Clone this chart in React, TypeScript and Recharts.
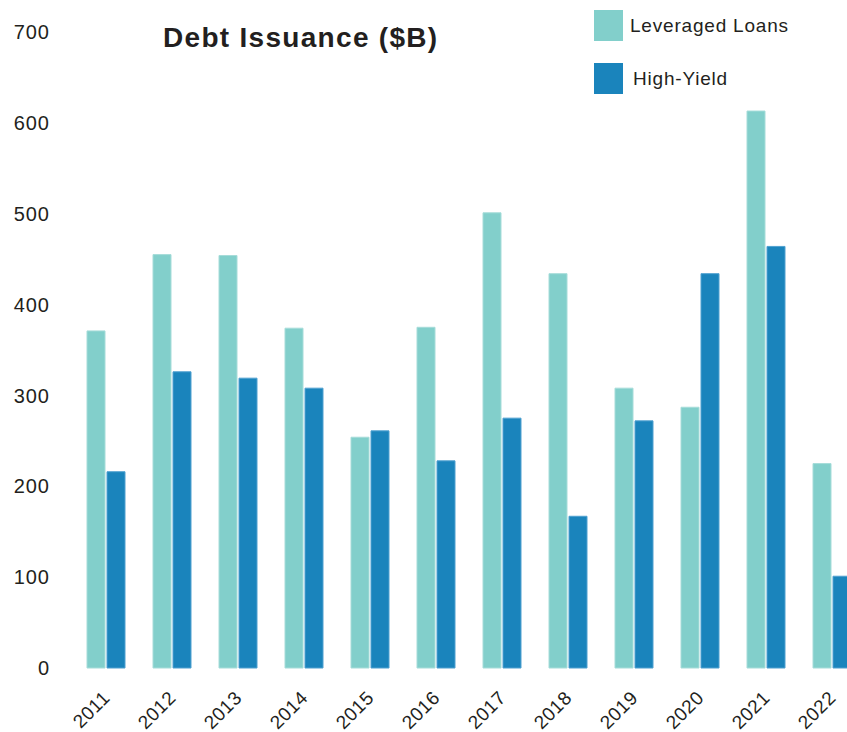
// @ts-nocheck
import React from "react";
import { BarChart, Bar, XAxis, YAxis } from "recharts";

const years = ["2011", "2012", "2013", "2014", "2015", "2016", "2017", "2018", "2019", "2020", "2021", "2022"];
const leveragedLoans = [371, 455, 454, 374, 254, 375, 501, 434, 308, 287, 613, 225];
const highYield = [216, 326, 319, 308, 261, 228, 275, 167, 272, 434, 464, 101];
const yTicks = [0, 100, 200, 300, 400, 500, 600, 700];

const series = [
  { key: "leveraged", name: "Leveraged Loans", fill: "#82cfcb", stroke: "#a6dcd9" },
  { key: "highYield", name: "High-Yield", fill: "#1a84bc", stroke: "#4fa0d0" },
];

const data = years.map((year, i) => ({
  year,
  leveraged: leveragedLoans[i],
  highYield: highYield[i],
}));

const FONT = "'Liberation Sans', Arial, Helvetica, sans-serif";
const TEXT = "#231f20";

const YearTick = ({ x, y, payload }) => (
  <text
    x={x + 5}
    y={y + 31}
    transform={`rotate(-45, ${x + 5}, ${y + 31})`}
    textAnchor="end"
    fontSize={19}
    fontFamily={FONT}
    fill={TEXT}
    letterSpacing={0.5}
  >
    {payload.value}
  </text>
);

const LegendBox = () => (
  <div style={{ position: "absolute", left: 594, top: 10, fontFamily: FONT, color: TEXT, zIndex: 2 }}>
    {series.map((s, i) => (
      <div
        key={s.key}
        style={{ display: "flex", alignItems: "center", height: 31, marginBottom: i === 0 ? 22 : 0 }}
      >
        <div style={{ width: 29, height: 31, background: s.fill }} />
        <span style={{ marginLeft: i === 0 ? 7 : 10, fontSize: 19, letterSpacing: 0.8 }}>{s.name}</span>
      </div>
    ))}
  </div>
);

export default function App() {
  return (
    <div style={{ position: "absolute", left: 0, top: 0, width: 847, height: 732, overflow: "hidden", background: "#fff" }}>
      <div
        style={{
          position: "absolute",
          left: 163,
          top: 22,
          fontFamily: FONT,
          fontWeight: "bold",
          fontSize: 28,
          lineHeight: "32px",
          letterSpacing: 1.3,
          color: TEXT,
          zIndex: 2,
        }}
      >
        Debt Issuance ($B)
      </div>
      <LegendBox />
      <BarChart
        width={865}
        height={732}
        data={data}
        margin={{ top: 32, right: 0, left: 0, bottom: 0 }}
        barGap={2}
        barSize={18}
      >
        <XAxis
          dataKey="year"
          height={64}
          axisLine={false}
          tickLine={false}
          tickSize={0}
          tickMargin={0}
          interval={0}
          tick={<YearTick />}
        />
        <YAxis
          width={73}
          domain={[0, 700]}
          ticks={yTicks}
          axisLine={false}
          tickLine={false}
          tickSize={0}
          tickMargin={23}
          tick={{ fontSize: 20, fontFamily: FONT, fill: TEXT, letterSpacing: 1 }}
        />
        {series.map((s) => (
          <Bar
            key={s.key}
            dataKey={s.key}
            name={s.name}
            fill={s.fill}
            stroke={s.stroke}
            strokeWidth={1}
            isAnimationActive={false}
          />
        ))}
      </BarChart>
    </div>
  );
}
